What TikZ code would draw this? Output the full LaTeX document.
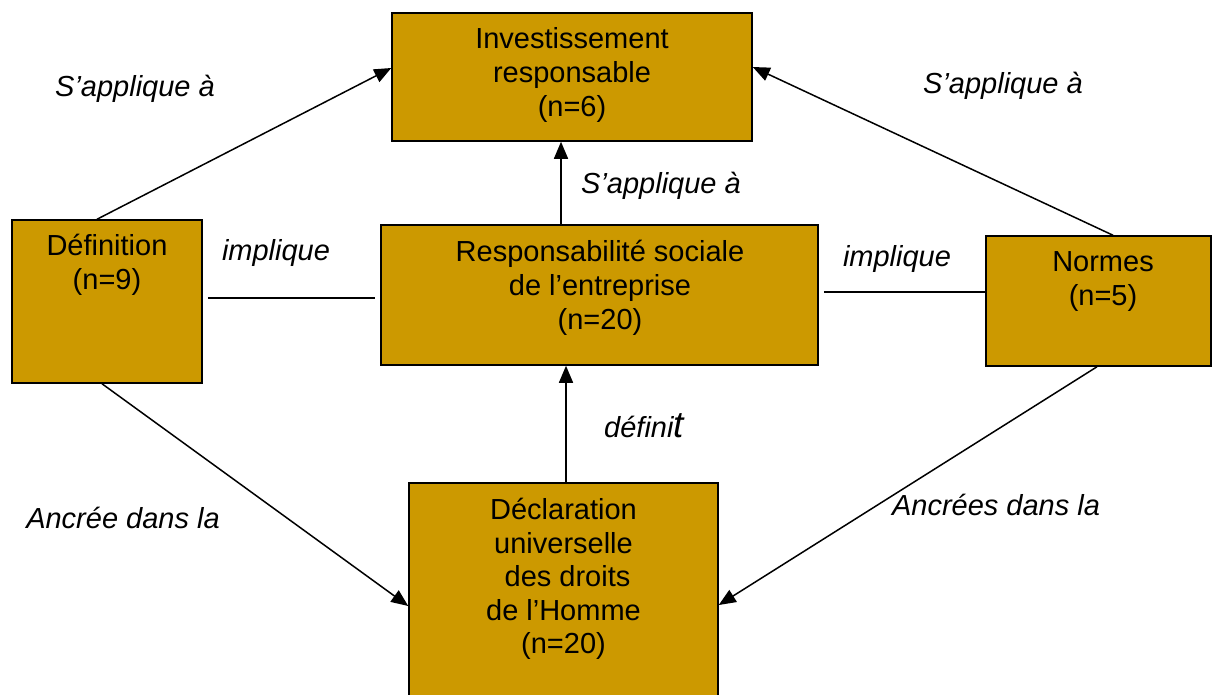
\documentclass[tikz,border=0pt]{standalone}
\usepackage{fontspec}
\setmainfont{Liberation Sans}
\usetikzlibrary{arrows.meta}
\definecolor{boxfill}{HTML}{CC9900}
\tikzset{
  box/.style={draw=black, fill=boxfill, line width=1.5pt, rectangle, inner sep=0pt},
  boxtext/.style={anchor=north, align=center, inner sep=0pt, font=\fontsize{29}{34}\selectfont},
  lbl/.style={anchor=base, inner sep=0pt, font=\fontsize{29}{34}\selectfont\itshape},
  arr/.style={line width=1.5pt, -{Triangle[length=17pt,width=14pt]}},
  plain/.style={line width=1.5pt}
}
\begin{document}
\begin{tikzpicture}[x=1pt,y=-1pt]
\useasboundingbox (0,0) rectangle (1212,694);
\clip (0,0) rectangle (1212,694);
% boxes
\node[box, minimum width=360pt, minimum height=128pt] (inv) at (572,77) {};
\node[box, minimum width=190pt, minimum height=163pt] (def) at (107,301.5) {};
\node[box, minimum width=437pt, minimum height=140pt] (rse) at (599.5,295) {};
\node[box, minimum width=225pt, minimum height=130pt] (nor) at (1098.5,301) {};
\node[box, minimum width=309pt, minimum height=227pt] (dec) at (563.5,596.5) {};
% box texts
\node[boxtext] (invt) at (572,27) {Investissement\\responsable\\(n=6)};
\node[boxtext] (deft) at (107,234) {Définition\\(n=9)};
\node[boxtext] (rset) at (600,240) {Responsabilité sociale\\de l’entreprise\\(n=20)};
\node[boxtext] (nort) at (1103,251) {Normes\\(n=5)};
\node[boxtext, font=\fontsize{29}{33.5}\selectfont] (dect) at (563.5,498) {Déclaration\\universelle\\\ des droits\\de l’Homme\\(n=20)};
% connectors
\draw[arr] ([xshift=-10pt]def.north) -- ([yshift=9pt]inv.west);
\draw[arr] ([xshift=14.5pt]nor.north) -- ([yshift=10pt]inv.east);
\coordinate (rtop) at ([xshift=-38.5pt]rse.north);
\draw[arr] (rtop) -- (rtop |- inv.south);
\coordinate (dtop) at ([xshift=2.5pt]dec.north);
\draw[arr] (dtop) -- (dtop |- rse.south);
\draw[arr] ([xshift=-5pt]def.south) -- ([yshift=-9.5pt]dec.west);
\draw[arr] ([xshift=-1.5pt]nor.south) -- ([yshift=-8.5pt]dec.east);
\draw[plain] ([xshift=5pt,yshift=3.5pt]def.east) -- ([xshift=-5pt,yshift=-3pt]rse.west);
\draw[plain] ([xshift=5pt,yshift=3pt]rse.east) -- ([yshift=9pt]nor.west);
% labels
\node[lbl] (l1) at (135,96) {S’applique à};
\node[lbl] (l2) at (1003,93) {S’applique à};
\node[lbl] (l3) at (661,193) {S’applique à};
\node[lbl] (l4) at (276,260) {implique};
\node[lbl] (l5) at (897,266) {implique};
\node[lbl] (l6) at (644,437) {défini{\fontsize{37}{37}\selectfont t}};
\node[lbl] (l7) at (123,528) {Ancrée dans la};
\node[lbl] (l8) at (996,515) {Ancrées dans la};
\end{tikzpicture}
\end{document}
